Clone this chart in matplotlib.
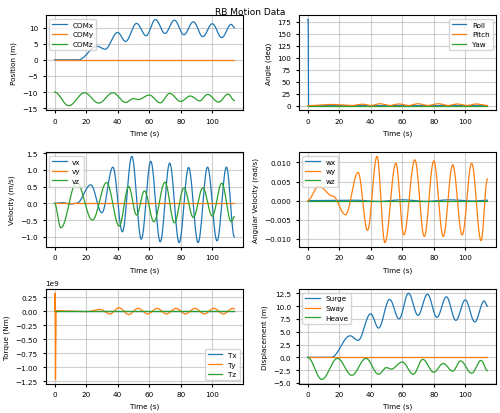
import numpy as np
import matplotlib
matplotlib.use("Agg")
import matplotlib.pyplot as plt
from matplotlib.ticker import MultipleLocator

plt.rcParams['font.size'] = 5.2

# Extrema (time s, value)
surge_t = [0, 15, 27, 32, 40, 45, 52, 58, 64, 70, 76, 82, 88, 94, 100, 106, 112, 114]
surge_v = [0, 0, 4.2, 3.3, 8.5, 5.7, 11.3, 7.5, 12.5, 8.2, 12.3, 7.8, 11.8, 7.2, 11.2, 6.9, 11.0, 10.0]
heave_t = [0, 9, 19, 28, 37, 45, 50, 53, 60, 67, 73, 80, 86, 92, 97, 104, 110, 114]
heave_v = [0, -4.3, -0.2, -3.5, -0.2, -3.3, -2.0, -2.3, -0.9, -3.3, -0.4, -2.9, -1.2, -2.7, -0.7, -3.1, -0.6, -2.6]
comz_t = heave_t
comz_v = [-10, -14.2, -10.2, -13.4, -10.2, -13.2, -12.0, -12.3, -10.9, -13.3, -10.4, -12.9, -11.2, -12.7, -10.7, -13.1, -10.6, -12.6]
vx_t = [0, 5, 10, 14, 23, 30, 37, 43, 49, 55, 61, 67, 73, 79, 85, 91, 97, 103, 109, 114]
vx_v = [0, 0.02, -0.02, 0, 0.55, -0.28, 1.08, -0.85, 1.4, -1.07, 1.25, -1.15, 1.2, -1.17, 1.07, -1.17, 1.08, -1.12, 1.08, -1.0]
vz_t = [0, 4, 14, 24, 33, 41, 47, 52, 57, 63, 70, 76, 82, 88, 94, 100, 106, 112, 114]
vz_v = [0, -0.73, 0.63, -0.5, 0.62, -0.68, 0.5, -0.35, 0.37, -0.55, 0.63, -0.58, 0.46, -0.42, 0.46, -0.38, 0.6, -0.55, -0.4]
wy_t = [0, 7, 16, 24, 32, 38, 44, 49, 56, 61, 68, 74, 80, 86, 92, 98, 104, 110, 114]
wy_v = [0, 0.0038, 0.0012, -0.0037, 0.0074, -0.0078, 0.0116, -0.011, 0.0098, -0.009, 0.0107, -0.0094, 0.0104,
        -0.0094, 0.0094, -0.009, 0.0098, -0.0105, 0.0057]
wx_t = [0, 30, 45, 60, 75, 90, 105, 114]
wx_v = [0, 0.0001, -0.0002, 0.0002, -0.0002, 0.0002, -0.0001, 0.0001]
roll_t = [0, 0.4, 0.6, 114]
roll_v = [180, 180, 0, 0]
pitch_t = [0, 15, 28, 35, 40, 46, 52, 58, 64, 70, 76, 83, 89, 95, 101, 107, 114]
pitch_v = [0, 2.5, 0.5, 3, 0.5, 4, 0.5, 3.5, 0.5, 4, 0.5, 4, 0.5, 3.5, 0.5, 3.5, 0.5]
ty_t = [0, 0.3, 0.6, 1.0, 10, 20, 29, 35, 41, 47, 53, 59, 65, 71, 77, 83, 89, 95, 101, 107, 113, 114]
ty_v = [0, 0.32e9, -1.22e9, 0.01e9, 0, -0.01e9, 0.03e9, -0.05e9, 0.06e9, -0.06e9, 0.05e9, -0.05e9, 0.05e9,
        -0.05e9, 0.05e9, -0.05e9, 0.05e9, -0.05e9, 0.05e9, -0.05e9, 0.05e9, 0.04e9]
flat_t = [0, 114]
flat_v = [0, 0]


def smooth(tk, vk, n=30):
    ts, ys = [], []
    for i in range(len(tk) - 1):
        s = np.linspace(0, 1, n, endpoint=False)
        w = (1 - np.cos(np.pi * s)) / 2
        ts.append(tk[i] + (tk[i + 1] - tk[i]) * s)
        ys.append(vk[i] + (vk[i + 1] - vk[i]) * w)
    ts.append([tk[-1]]); ys.append([vk[-1]])
    return np.concatenate(ts), np.concatenate(ys)


fig, axes = plt.subplots(3, 2, figsize=(5.0, 4.14), dpi=100)
fig.suptitle("RB Motion Data", fontsize=6.5)
lw = 0.9

ax = axes[0, 0]
ax.plot(*smooth(surge_t, surge_v), lw=lw, label="COMx")
ax.plot(flat_t, flat_v, lw=lw, label="COMy")
ax.plot(*smooth(comz_t, comz_v), lw=lw, label="COMz")
ax.set_ylabel("Position (m)"); ax.legend(loc="upper left")
ax.yaxis.set_major_locator(MultipleLocator(5))

ax = axes[0, 1]
ax.plot(roll_t, roll_v, lw=lw, label="Roll")
ax.plot(*smooth(pitch_t, pitch_v), lw=lw, label="Pitch")
ax.plot(flat_t, flat_v, lw=lw, label="Yaw")
ax.set_ylabel("Angle (deg)"); ax.legend(loc="upper right")
ax.yaxis.set_major_locator(MultipleLocator(25))

ax = axes[1, 0]
ax.plot(*smooth(vx_t, vx_v), lw=lw, label="vx")
ax.plot(flat_t, flat_v, lw=lw, label="vy")
ax.plot(*smooth(vz_t, vz_v), lw=lw, label="vz")
ax.set_ylabel("Velocity (m/s)"); ax.legend(loc="upper left")
ax.yaxis.set_major_locator(MultipleLocator(0.5))

ax = axes[1, 1]
ax.plot(*smooth(wx_t, wx_v), lw=lw, label="wx")
ax.plot(*smooth(wy_t, wy_v), lw=lw, label="wy")
ax.plot(flat_t, flat_v, lw=lw, label="wz")
ax.set_ylabel("Angular Velocity (rad/s)"); ax.legend(loc="upper left")
ax.yaxis.set_major_locator(MultipleLocator(0.005))

ax = axes[2, 0]
ax.plot(flat_t, flat_v, lw=lw, label="Tx")
ax.plot(ty_t[:5], ty_v[:5], lw=lw, color="C1")
ax.plot(*smooth(ty_t[4:], ty_v[4:]), lw=lw, color="C1", label="Ty")
ax.plot(flat_t, flat_v, lw=lw, label="Tz", color="C2")
ax.set_ylabel("Torque (Nm)"); ax.legend(loc="lower right")
ax.yaxis.set_major_locator(MultipleLocator(0.25e9))

ax = axes[2, 1]
ax.plot(*smooth(surge_t, surge_v), lw=lw, label="Surge")
ax.plot(flat_t, flat_v, lw=lw, label="Sway")
ax.plot(*smooth(heave_t, heave_v), lw=lw, label="Heave")
ax.set_ylabel("Displacement (m)"); ax.legend(loc="upper left")
ax.yaxis.set_major_locator(MultipleLocator(2.5))

for ax in axes.flat:
    ax.set_xlabel("Time (s)")
    ax.grid(True, alpha=0.6)
    ax.tick_params(labelsize=5.2, length=2)

fig.tight_layout(pad=0.5, h_pad=1.0, w_pad=1.2)
fig.savefig("out.png", dpi=100)
